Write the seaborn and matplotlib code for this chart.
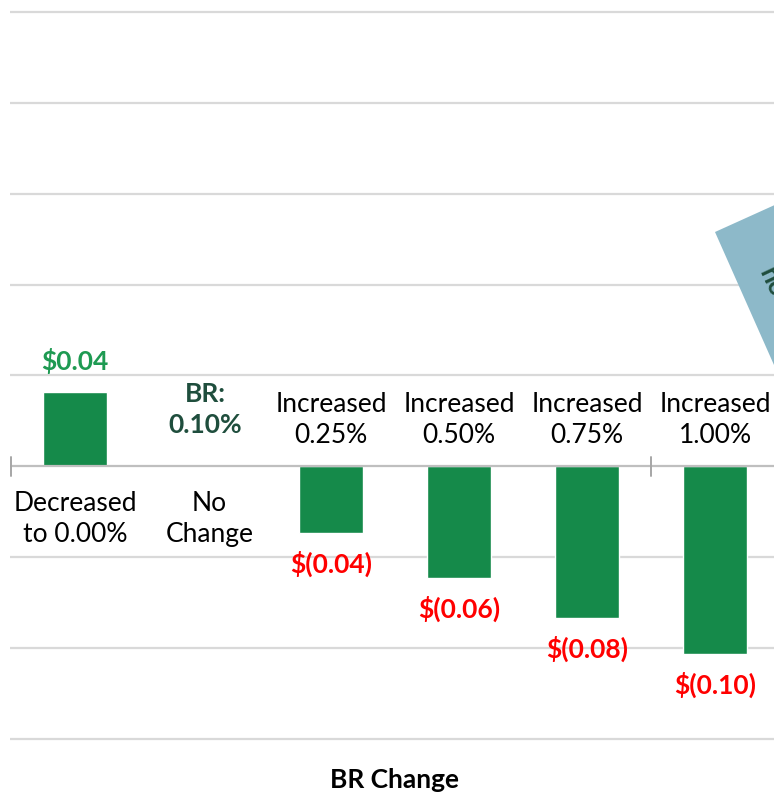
import matplotlib
matplotlib.use("Agg")
import matplotlib.pyplot as plt
import seaborn as sns
import pandas as pd
from matplotlib.patches import Polygon

categories = ["Decreased\nto 0.00%", "No\nChange", "Increased\n0.25%", "Increased\n0.50%",
              "Increased\n0.75%", "Increased\n1.00%"]
values = [0.041, 0.0, -0.0367, -0.0614, -0.0834, -0.1034]
value_labels = ["$0.04", "BR:\n0.10%", "$(0.04)", "$(0.06)", "$(0.08)", "$(0.10)"]
y_ticks = [-0.15, -0.10, -0.05, 0.0, 0.05, 0.10, 0.15, 0.20, 0.25]
x_title = "BR Change"

sns.set_theme(style="white")
plt.rcParams['font.family'] = ['Lato', 'DejaVu Sans']

W, H = 774, 796
fig = plt.figure(figsize=(W / 100, H / 100), dpi=100)

ymin, ymax = -0.155, 0.255
ppu = 727 / 0.4
top_px = 12 - 0.005 * ppu
bot_px = 739 + 0.005 * ppu
left_px, right_px = 10, 774
ax = fig.add_axes([left_px / W, 1 - bot_px / H, (right_px - left_px) / W, (bot_px - top_px) / H])

df = pd.DataFrame({"cat": categories, "val": values})
sns.barplot(data=df, x="cat", y="val", color="#158a4a", width=0.5, ax=ax,
            saturation=1, zorder=3)
ax.set_xlim(-65 / 128, (774 - 75) / 128)
ax.set_ylim(ymin, ymax)

for yt in y_ticks:
    if yt != 0:
        ax.axhline(yt, color="#d9d9d9", lw=1.6, zorder=1)
ax.axhline(0, color="#bfbfbf", lw=1.6, zorder=4)
for xt in [-0.5, 4.5]:
    ax.plot([xt, xt], [0.005, -0.0055], color="#a6a6a6", lw=1.4, zorder=4, clip_on=False)

for s in ax.spines.values():
    s.set_visible(False)
ax.set_xticks([])
ax.set_yticks([])
ax.set_xlabel("")
ax.set_ylabel("")

FS = 19
off = 31 / ppu
for i, (v, lab, cat) in enumerate(zip(values, value_labels, categories)):
    if i == 1:
        ax.text(i + 0.02, 57 / ppu, lab, ha="center", va="center", fontsize=FS,
                fontweight="bold", color="#1f4e3d", linespacing=1.35)
        ax.text(i + 0.05, -53 / ppu, cat, ha="center", va="center", fontsize=FS,
                color="black", linespacing=1.3)
    elif v > 0:
        ax.text(i, v + off, lab, ha="center", va="center", fontsize=FS,
                fontweight="bold", color="#1e9a52")
        ax.text(i, -53 / ppu, cat, ha="center", va="center", fontsize=FS,
                color="black", linespacing=1.3)
    else:
        ax.text(i, v - off, lab, ha="center", va="center", fontsize=FS,
                fontweight="bold", color="#ff0000")
        ax.text(i, 46 / ppu, cat, ha="center", va="center", fontsize=FS,
                color="black", linespacing=1.3)

fig.text(395 / W, 1 - 780 / H, x_title, ha="center", va="center", fontsize=FS,
         fontweight="bold", color="black")

# decorative callout shape at right edge (clipped)
pts = [(715, 232), (830, 180), (889, 313), (774, 365)]
poly = Polygon([(x / W, 1 - y / H) for x, y in pts], closed=True,
               transform=fig.transFigure, facecolor="#8db9c9", edgecolor="none", zorder=5)
fig.add_artist(poly)
fig.text(772 / W, 1 - 282 / H, "no", rotation=-65, ha="center", va="center",
         fontsize=FS, fontweight="bold", color="#1f4e3d", zorder=6)

fig.savefig("out.png", dpi=100)
